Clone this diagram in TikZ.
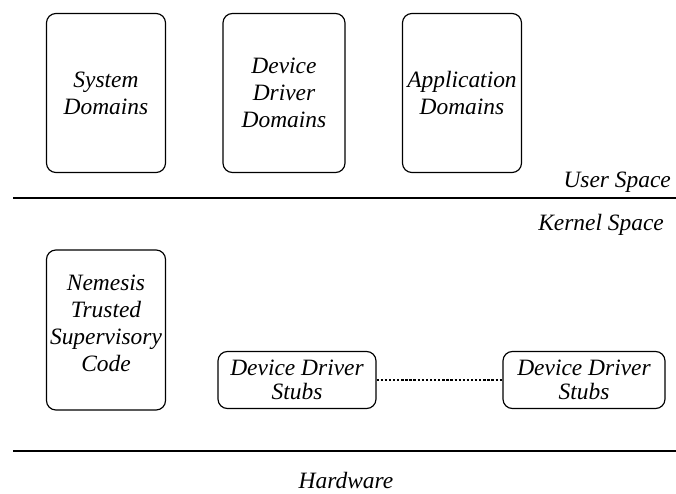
\documentclass[tikz,border=0pt]{standalone}
\usepackage{fontspec}
\setmainfont{Liberation Serif}
\newfontfamily\figfont{Liberation Serif}
\usepackage{tikz}

\begin{document}
\begin{tikzpicture}[x=0.03cm,y=-0.03cm,
  dombox/.style={draw, line width=1pt, rounded corners=8pt, minimum width=119*0.03cm, minimum height=159*0.03cm, align=center, inner sep=1pt, font=\figfont\fontsize{20}{23}\selectfont\itshape},
  stubbox/.style={draw, line width=1pt, rounded corners=8pt, minimum width=158*0.03cm, minimum height=57*0.03cm, align=center, inner sep=1pt, font=\figfont\fontsize{20}{21}\selectfont\itshape},
  lbl/.style={font=\figfont\fontsize{20}{23}\selectfont\itshape}]
\useasboundingbox (0,0) rectangle (676,493);
% user space
\node[dombox] (sys) at (106,93) {System\\Domains};
\node[dombox, minimum width=122*0.03cm] (ddd) at (284,93) {Device\\Driver\\Domains};
\node[dombox] (app) at (462,93) {Application\\Domains};
\node[lbl, anchor=east] (us) at (675,182) {User Space};
\draw[line width=1pt] (13,198) -- (676,198);
\node[lbl, anchor=east] (ks) at (668,225) {Kernel Space};
% kernel space
\node[dombox, minimum height=160*0.03cm] (nem) at (106,330) {};
\node[lbl, align=center] (nemtext) at (106,323) {Nemesis\\Trusted\\Supervisory\\Code};
\node[stubbox] (stub1) at (297,380) {Device Driver\\Stubs};
\node[stubbox, minimum width=162*0.03cm] (stub2) at (584,380) {Device Driver\\Stubs};
\draw[line width=1pt, dash pattern=on 2pt off 1.5pt] (stub1) -- (stub2);
\draw[line width=1pt] (13,451) -- (676,451);
% hardware
\node[lbl] (hw) at (346,480) {Hardware};
\end{tikzpicture}
\end{document}
